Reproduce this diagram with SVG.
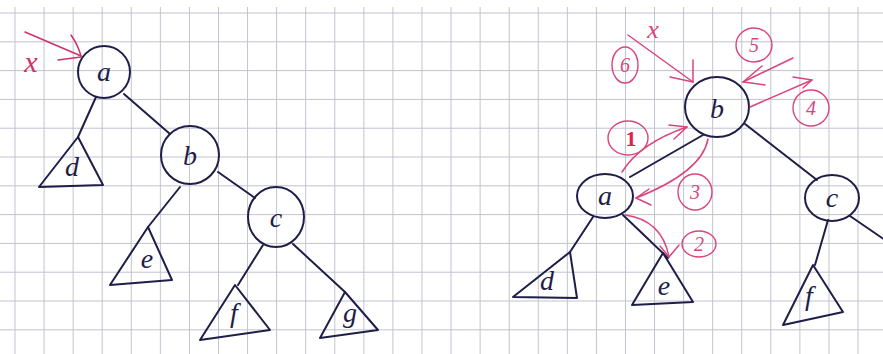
<svg xmlns="http://www.w3.org/2000/svg" width="883" height="354" viewBox="0 0 883 354">
<defs>
<pattern id="grid" patternUnits="userSpaceOnUse" x="14.5" y="12.5" width="29.07" height="28.8">
<path d="M0.5,0 V28.8 M0,0.5 H29.07" stroke="#c0c2d0" stroke-width="1" fill="none"/>
</pattern>
</defs>
<style>
.ink{fill:none;stroke:#1e1e48;stroke-width:2;stroke-linecap:round;stroke-linejoin:round}
.node{fill:#ffffff;fill-opacity:0;stroke:#1e1e48;stroke-width:2}
.lbl{font-family:"Liberation Serif",serif;font-style:italic;font-size:28px;fill:#1e1e48;text-anchor:middle}
.red{fill:none;stroke:#d9457c;stroke-width:1.5;stroke-linecap:round}
.rc{fill:none;stroke:#d9457c;stroke-width:1.4}
.rt{font-family:"Liberation Serif",serif;font-style:italic;font-size:20px;fill:#d9457c;text-anchor:middle}
.rx{font-family:"Liberation Serif",serif;font-style:italic;font-size:30px;fill:#d0306a;text-anchor:middle}
.rx2{font-family:"Liberation Serif",serif;font-style:italic;font-size:26px;fill:#d9457c;text-anchor:middle}
.one{font-family:"Liberation Serif",serif;font-weight:bold;font-size:22px;fill:#e0224f;text-anchor:middle}
</style>
<rect width="883" height="354" fill="#ffffff"/>
<rect x="0" y="7" width="883" height="347" fill="url(#grid)"/>

<g id="connectors" class="ink">
<line x1="96" y1="97" x2="78" y2="137"/>
<line x1="124" y1="94" x2="170" y2="134"/>
<line x1="180" y1="187" x2="148" y2="227"/>
<line x1="218" y1="172" x2="255" y2="198"/>
<line x1="263" y1="245" x2="238" y2="285"/>
<line x1="293" y1="244" x2="345" y2="292"/>
<line x1="703" y1="135" x2="630" y2="177"/>
<line x1="745" y1="124" x2="817" y2="180"/>
<line x1="593" y1="217" x2="570" y2="252"/>
<line x1="623" y1="215" x2="668" y2="258"/>
<line x1="828" y1="220" x2="815" y2="265"/>
<line x1="850" y1="216" x2="885" y2="240"/>
</g>

<g id="L-a"><ellipse class="node" cx="104" cy="72" rx="26" ry="26"/><text class="lbl" x="104" y="81">a</text></g>
<g id="L-b"><ellipse class="node" cx="190" cy="155" rx="29" ry="29"/><text class="lbl" x="190" y="165">b</text></g>
<g id="L-c"><ellipse class="node" cx="276" cy="217" rx="28" ry="30"/><text class="lbl" x="276" y="227">c</text></g>
<g id="L-d"><path class="ink" d="M78,137 L39,187 L103,185 Z"/><text class="lbl" x="72" y="176">d</text></g>
<g id="L-e"><path class="ink" d="M148,227 L110,285 L172,280 Z"/><text class="lbl" x="147" y="268">e</text></g>
<g id="L-f"><path class="ink" d="M235,285 L200,340 L270,330 Z"/><text class="lbl" x="234" y="322">f</text></g>
<g id="L-g"><path class="ink" d="M345,292 L320,338 L378,330 Z"/><text class="lbl" x="350" y="322">g</text></g>

<g id="R-b"><ellipse class="node" cx="717" cy="107" rx="32" ry="30"/><text class="lbl" x="717" y="118">b</text></g>
<g id="R-a"><ellipse class="node" cx="605" cy="196" rx="28" ry="22"/><text class="lbl" x="605" y="205">a</text></g>
<g id="R-c"><ellipse class="node" cx="832" cy="198" rx="27" ry="23"/><text class="lbl" x="832" y="207">c</text></g>
<g id="R-d"><path class="ink" d="M570,252 L513,297 L577,298 Z"/><text class="lbl" x="547" y="290">d</text></g>
<g id="R-e"><path class="ink" d="M663,253 L632,305 L693,302 Z"/><text class="lbl" x="664" y="295">e</text></g>
<g id="R-f"><path class="ink" d="M813,265 L783,325 L843,312 Z"/><text class="lbl" x="809" y="305">f</text></g>

<g id="annot-left">
<text class="rx" x="31" y="72">x</text>
<line class="red" x1="25" y1="32" x2="81" y2="56" style="stroke:#d0306a"/>
<path class="red" d="M58,60 L81,57 M71,35 Q78,45 81,56" style="stroke:#d0306a"/>
</g>

<g id="annot-right">
<text class="rx2" x="653" y="38">x</text>
<line class="red" x1="628" y1="35" x2="693" y2="82"/>
<path class="red" d="M670,77 L693,82 M693,60 L693,82"/>
<g id="step6"><ellipse class="rc" cx="625" cy="65" rx="13" ry="18"/><text class="rt" x="625" y="72">6</text></g>
<g id="step5"><ellipse class="rc" cx="754" cy="45" rx="18" ry="17"/><text class="rt" x="754" y="52">5</text></g>
<line class="red" x1="793" y1="58" x2="743" y2="82"/>
<path class="red" d="M762,66 L743,82 M765,85 L743,82"/>
<line class="red" x1="750" y1="107" x2="812" y2="80"/>
<path class="red" d="M793,77 L812,80 M803,88 L812,80"/>
<g id="step4"><ellipse class="rc" cx="811" cy="108" rx="18" ry="18"/><text class="rt" x="811" y="115">4</text></g>
<g id="step1"><ellipse class="rc" cx="628" cy="138" rx="20" ry="17"/><text class="one" x="631" y="146">1</text></g>
<path class="red" d="M622,172 Q640,143 687,127"/>
<path class="red" d="M669,125 L687,127 M674,139 L687,127"/>
<path class="red" d="M708,139 Q702,172 636,198"/>
<path class="red" d="M649,189 L636,198 M651,205 L636,198"/>
<g id="step3"><ellipse class="rc" cx="695" cy="192" rx="17" ry="18"/><text class="rt" x="695" y="199">3</text></g>
<path class="red" d="M625,215 Q662,220 669,257"/>
<path class="red" d="M660,246 L669,257 M679,245 L669,257"/>
<g id="step2"><ellipse class="rc" cx="699" cy="244" rx="17" ry="13"/><text class="rt" x="699" y="251">2</text></g>
</g>
</svg>
